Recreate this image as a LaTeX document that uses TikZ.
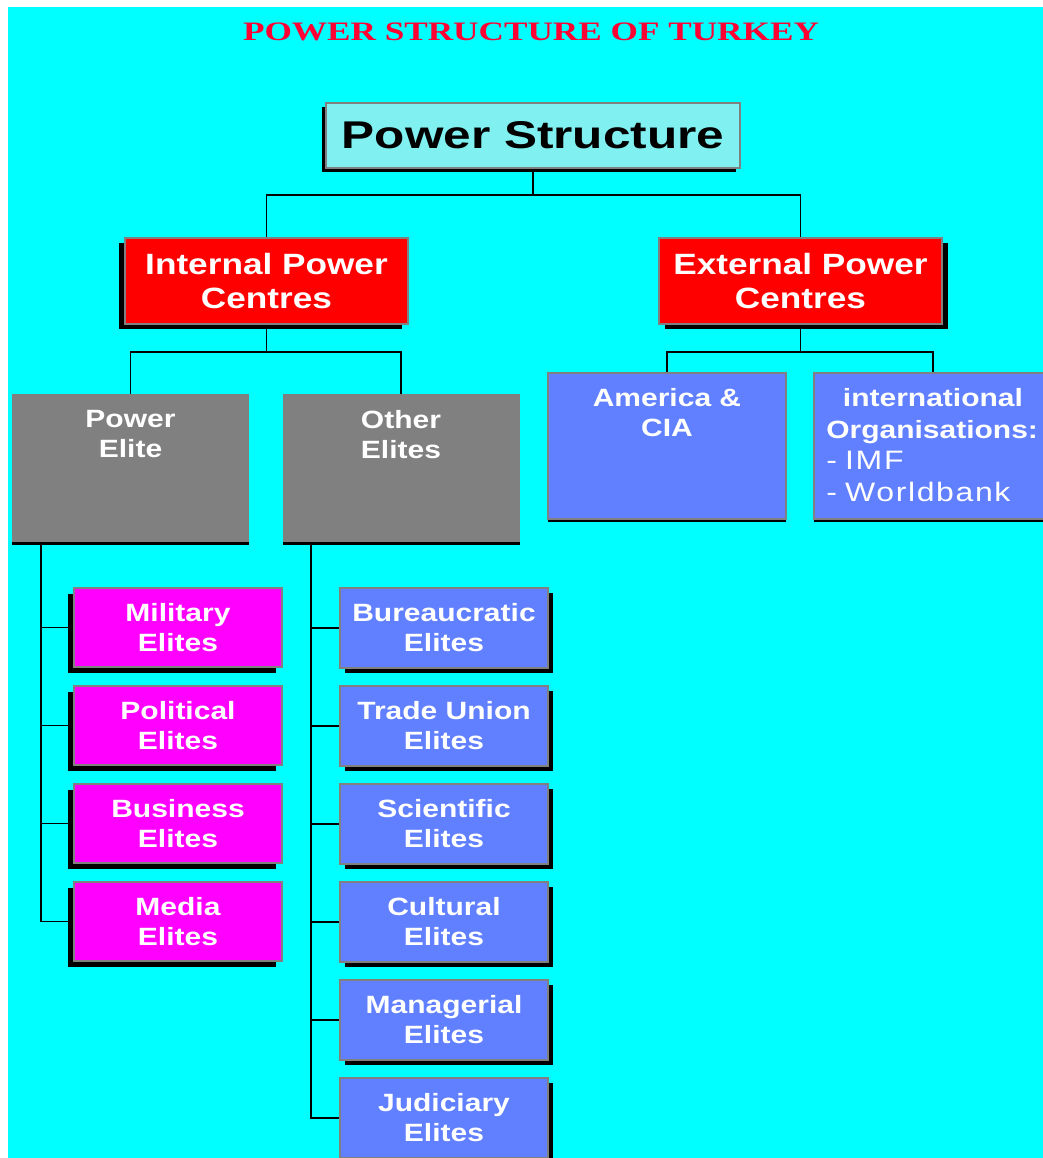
\documentclass[tikz,border=0pt]{standalone}
\usepackage{fontspec}
\setmainfont{Liberation Sans}
\newfontfamily\titlefont{Liberation Serif}[FakeStretch=1.32]
\newfontfamily\headfont{Liberation Sans}[FakeStretch=1.28]
\newfontfamily\boxfont{Liberation Sans}[FakeStretch=1.2]
\newfontfamily\listfont{Liberation Sans}[FakeStretch=1.2,LetterSpace=6]
\usetikzlibrary{shadows}
\definecolor{aqua}{RGB}{0,255,255}
\definecolor{paleaqua}{RGB}{128,240,240}
\definecolor{titlered}{RGB}{255,0,51}
\definecolor{elitegrey}{RGB}{128,128,128}
\definecolor{eliteblue}{RGB}{96,128,255}
\definecolor{elitepink}{RGB}{255,0,255}
\begin{document}
\begin{tikzpicture}
[x=0.75pt,y=-0.75pt,
connector/.style={line width=1.2pt},
titletext/.style={text=titlered,font=\titlefont\bfseries\fontsize{20}{24}\selectfont},
topnode/.style={rectangle,draw=elitegrey,line width=1.5pt,fill=paleaqua,minimum width=310.5pt,minimum height=48.75pt,font=\headfont\bfseries\fontsize{29}{34}\selectfont,drop shadow={shadow xshift=-3pt,shadow yshift=-3pt,fill=black,opacity=1}},
rednode/.style={rectangle,draw=elitegrey,line width=1.5pt,fill=red,text=white,align=center,minimum width=212.25pt,minimum height=64.5pt,font=\boxfont\bfseries\fontsize{22}{25.5}\selectfont},
redleft/.style={rednode,drop shadow={shadow xshift=-4.5pt,shadow yshift=-3.75pt,fill=black,opacity=1}},
redright/.style={rednode,drop shadow={shadow xshift=4.5pt,shadow yshift=-3.75pt,fill=black,opacity=1}},
greynode/.style={rectangle,fill=elitegrey,minimum width=177.75pt,minimum height=111pt,drop shadow={shadow xshift=0pt,shadow yshift=-2pt,fill=black,opacity=1}},
bluebox/.style={rectangle,draw=elitegrey,line width=1.5pt,fill=eliteblue,minimum width=178.5pt,minimum height=109.5pt,drop shadow={shadow xshift=0pt,shadow yshift=-2.5pt,fill=black,opacity=1}},
toplabel/.style={anchor=north,yshift=-12pt,inner sep=0pt,text=white,align=center,font=\boxfont\bfseries\fontsize{18.75}{22.5}\selectfont},
listlabel/.style={anchor=north west,xshift=9.75pt,yshift=-12pt,inner sep=0pt,text=white,align=left,text width=160pt,font=\boxfont\bfseries\fontsize{18.75}{23.8}\selectfont},
elitenode/.style={rectangle,draw=elitegrey,line width=1.5pt,text=white,align=center,minimum width=156pt,minimum height=59.5pt,font=\boxfont\bfseries\fontsize{18.75}{22.5}\selectfont},
pinknode/.style={elitenode,fill=elitepink,drop shadow={shadow xshift=-4.5pt,shadow yshift=-4.5pt,fill=black,opacity=1}},
bluenode/.style={elitenode,fill=eliteblue,drop shadow={shadow xshift=3.75pt,shadow yshift=-3.75pt,fill=black,opacity=1}}
]
\useasboundingbox (0,0) rectangle (1043,1158);
\fill[aqua] (8,7) rectangle (1043,1158);

\node[titletext] (title) at (531,32) {POWER STRUCTURE OF TURKEY};
\node[topnode] (ps) at (533,135.5) {Power Structure};

\node[redleft] (ipc) at (266.5,281) {Internal Power\\Centres};
\node[redright] (epc) at (800.5,281) {External Power\\Centres};

\node[greynode,label={[toplabel]north:Power\\Elite}] (pe) at (130.5,468) {};
\node[greynode,label={[toplabel]north:Other\\Elites}] (oe) at (401,468) {};
\node[bluebox,label={[toplabel]north:America \&\\CIA}] (us) at (667,446) {};
\node[bluebox,label={[listlabel]north west:{\makebox[\hsize]{international}\\\mbox{Organisations:}\\{\listfont\mdseries\fontsize{20}{23.8}\selectfont - IMF}\\{\listfont\mdseries\fontsize{20}{23.8}\selectfont - Worldbank}}}] (io) at (933,446) {};

\node[pinknode] (mil) at (178,627.5) {Military\\Elites};
\node[pinknode] (pol) at (178,725.5) {Political\\Elites};
\node[pinknode] (biz) at (178,823.5) {Business\\Elites};
\node[pinknode] (med) at (178,921.5) {Media\\Elites};

\node[bluenode] (bur) at (444,628) {Bureaucratic\\Elites};
\node[bluenode] (tu) at (444,726) {Trade Union\\Elites};
\node[bluenode] (sci) at (444,824) {Scientific\\Elites};
\node[bluenode] (cul) at (444,922) {Cultural\\Elites};
\node[bluenode] (man) at (444,1020) {Managerial\\Elites};
\node[bluenode] (jud) at (444,1118) {Judiciary\\Elites};

\draw[connector] (ps.south) -- ++(0,26) coordinate (psbus) -| (ipc.north);
\draw[connector] (psbus) -| (epc.north);
\draw[connector] (ipc.south) -- ++(0,27) coordinate (ipcbus) -| (pe.north);
\draw[connector] (ipcbus) -| (oe.north);
\draw[connector] (epc.south) -- ++(0,27) coordinate (epcbus) -| (us.north);
\draw[connector] (epcbus) -| (io.north);

\coordinate (pebus) at ([xshift=21.75pt]pe.south west);
\draw[connector] (pebus) |- (med.west);
\draw[connector] (mil.west) -- (mil.west -| pebus);
\draw[connector] (pol.west) -- (pol.west -| pebus);
\draw[connector] (biz.west) -- (biz.west -| pebus);

\coordinate (oebus) at ([xshift=21.75pt]oe.south west);
\draw[connector] (oebus) |- (jud.west);
\draw[connector] (bur.west) -- (bur.west -| oebus);
\draw[connector] (tu.west) -- (tu.west -| oebus);
\draw[connector] (sci.west) -- (sci.west -| oebus);
\draw[connector] (cul.west) -- (cul.west -| oebus);
\draw[connector] (man.west) -- (man.west -| oebus);
\end{tikzpicture}
\end{document}
